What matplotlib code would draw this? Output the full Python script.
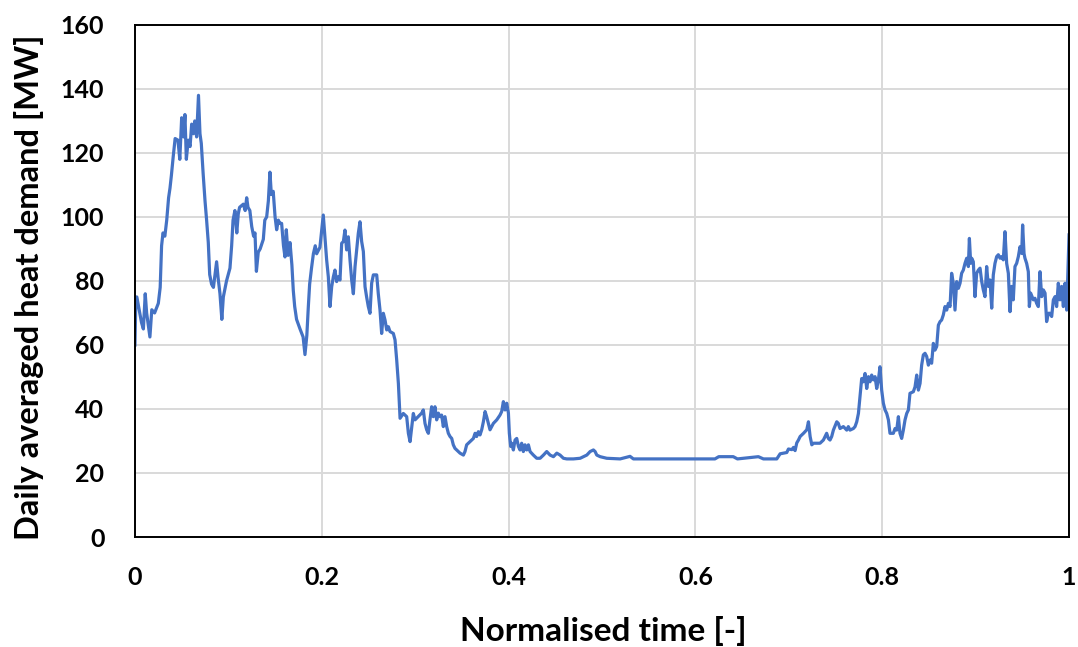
import numpy as np
import matplotlib
matplotlib.use("Agg")
import matplotlib.pyplot as plt

# normalised time [-] and daily averaged heat demand [MW]
norm_time = [
    0, 0.001, 0.002, 0.007, 0.009, 0.011, 0.0125, 0.016, 0.018, 0.021, 0.025, 0.027, 0.0285, 0.030,
    0.032, 0.034, 0.036, 0.0375, 0.039, 0.041, 0.043, 0.046, 0.048, 0.050, 0.052, 0.0535, 0.055,
    0.057, 0.059, 0.0607, 0.0625, 0.064, 0.066, 0.068, 0.0696, 0.071, 0.073, 0.075, 0.0767, 0.0785,
    0.080, 0.082, 0.084, 0.0857, 0.0874, 0.089, 0.091, 0.093, 0.0946, 0.098, 0.1017, 0.1035, 0.105,
    0.107, 0.109, 0.1106, 0.112, 0.116, 0.118, 0.1196, 0.121, 0.123, 0.125, 0.127, 0.1285, 0.130,
    0.132, 0.134, 0.1374, 0.139, 0.141, 0.1428, 0.1445, 0.146, 0.148, 0.150, 0.1517, 0.1535, 0.155,
    0.157, 0.159, 0.1606, 0.162, 0.164, 0.166, 0.168, 0.1695, 0.171, 0.173, 0.1767, 0.180, 0.182,
    0.184, 0.1856, 0.187, 0.189, 0.191, 0.193, 0.1945, 0.198,
    0.2016, 0.2052, 0.207, 0.2088, 0.2106, 0.2124, 0.2141, 0.2159, 0.2177, 0.2195, 0.2213, 0.2231,
    0.2248, 0.2266, 0.2284, 0.2302, 0.232, 0.2338, 0.2356, 0.2373, 0.2391, 0.2409, 0.2427, 0.2445,
    0.2463, 0.248, 0.2498, 0.2516, 0.2534, 0.2552, 0.2588, 0.2605, 0.2623, 0.2641, 0.2659, 0.2677,
    0.2695, 0.2713, 0.273, 0.2766, 0.2784, 0.2802, 0.282, 0.2838, 0.2873, 0.2909, 0.2927, 0.2945,
    0.2963, 0.298, 0.2998,
    0.3069, 0.3087, 0.3105, 0.3123, 0.3141, 0.3158, 0.3176, 0.3194, 0.3212, 0.323, 0.3248, 0.3266,
    0.3283, 0.3301, 0.3319, 0.3337, 0.3355, 0.3373, 0.3391, 0.3408, 0.3426, 0.3444, 0.348, 0.3516,
    0.3533, 0.3551, 0.3587, 0.3623, 0.3641, 0.3658, 0.3676, 0.3694, 0.3712, 0.373, 0.3748, 0.3765,
    0.3783, 0.3801, 0.3819, 0.3837, 0.3873, 0.3908, 0.3926, 0.3944, 0.3962, 0.398, 0.3998, 0.4008,
    0.4022, 0.4033, 0.4051, 0.4069, 0.4087, 0.4105, 0.4122, 0.414, 0.4158, 0.4176, 0.4194, 0.4212,
    0.423, 0.4265, 0.4301, 0.4337, 0.4373, 0.4408, 0.4444, 0.448, 0.4516, 0.4551, 0.4587, 0.4623,
    0.4694, 0.4766, 0.4801, 0.4837, 0.4873, 0.4908, 0.4926, 0.4944, 0.498, 0.5051, 0.5194,
    0.53, 0.5336, 0.6209, 0.625, 0.6405, 0.645, 0.6674, 0.6728, 0.6871, 0.6907, 0.6942, 0.6978,
    0.6996, 0.7032, 0.705, 0.7067, 0.7085, 0.7103, 0.7121, 0.7157, 0.7192, 0.721, 0.7228, 0.7246,
    0.7264, 0.7299,
    0.7334, 0.737, 0.7405, 0.7423, 0.7441, 0.7459, 0.7477, 0.7513, 0.753, 0.7548, 0.7584, 0.762,
    0.7637, 0.7655, 0.7691, 0.7709, 0.7727, 0.7745, 0.7762, 0.778, 0.7798, 0.7816, 0.7834, 0.7852,
    0.7869, 0.7887, 0.7905, 0.7923, 0.7941, 0.7959, 0.7976, 0.7994, 0.8012, 0.803, 0.8048, 0.8066,
    0.8083, 0.8119, 0.8137, 0.8155, 0.8173, 0.819, 0.8208, 0.8226, 0.8244, 0.8262, 0.828, 0.8297,
    0.8333, 0.8351, 0.8369, 0.8387, 0.8405, 0.8422, 0.844, 0.8458, 0.8476, 0.8494, 0.8512, 0.8529,
    0.8547, 0.8565, 0.8583, 0.8601, 0.8619, 0.8636, 0.8654, 0.8672, 0.869, 0.8708, 0.8726, 0.8743,
    0.8761, 0.8779, 0.8797, 0.8815, 0.8833, 0.885, 0.8868, 0.8886, 0.8904, 0.8922, 0.8933, 0.8947,
    0.8958, 0.8975, 0.8993, 0.9011, 0.9029, 0.9047, 0.9065, 0.9082, 0.91, 0.9118, 0.9136, 0.9154,
    0.9172, 0.9189, 0.9207, 0.9225, 0.9243, 0.9261, 0.9279, 0.9296, 0.9314, 0.9332, 0.935, 0.9368,
    0.9386, 0.9403, 0.9421, 0.9439, 0.9457, 0.9475, 0.9493, 0.9503, 0.9518, 0.9528, 0.9546, 0.9564,
    0.9575, 0.9589, 0.9618, 0.9635, 0.9653, 0.9671, 0.9689, 0.9707, 0.9725, 0.9743, 0.976, 0.9778,
    0.9796, 0.9814, 0.9832, 0.985, 0.9867, 0.9885, 0.9903, 0.9921, 0.9939, 0.9957, 0.9975, 1.0,
]
heat_demand_mw = [
    60, 75, 75, 67, 65, 76, 70, 62.5, 71, 70, 73, 78, 91, 95,
    94, 99, 106, 109, 113, 119, 124.5, 124, 118, 131, 125, 132, 118,
    124, 122, 129, 126, 130, 125, 138, 126, 123, 113.5, 105, 99, 92,
    82, 79, 78, 82, 86, 81, 76, 68, 75, 80, 84, 91, 99,
    102, 95, 101, 103, 104, 102, 106, 103, 102, 97, 94, 95, 83,
    89, 90, 93, 99, 100, 105, 114, 107, 108, 100, 96, 99, 98,
    98, 91, 87.5, 96, 88, 92, 85, 77, 72, 68, 65, 62.5, 57,
    63, 72, 79, 84, 88.5, 91, 88.5, 90.5,
    100.6, 86.6, 81.3, 72, 78.2, 81.3, 83.4, 79.8, 81.3, 80.3, 91.8, 92.3,
    95.9, 89.7, 93.8, 86.6, 80.3, 76, 84.5, 89.7, 94.9, 98.5, 92.3, 89.2,
    78.2, 75, 72, 69.9, 79.3, 81.9, 81.9, 76, 71, 63.6, 69.9, 67.8,
    64.7, 65.7, 64.2, 63.6, 61.6, 55.3, 48, 37.1, 38.6, 37.6, 32.4, 29.8,
    34.4, 38.6, 36.6,
    38.7, 39.7, 35.5, 33.5, 32.4, 36.6, 40.7, 37.6, 40.7, 36.6, 38.7, 37.6,
    38.1, 34.5, 37.6, 34.5, 32.4, 31.4, 30.8, 28.8, 27.7, 27.2, 26.2, 25.6,
    26.7, 28.8, 29.8, 30.8, 32.4, 31.4, 32.9, 31.9, 33.5, 36, 39.2, 37.6,
    35.5, 33.5, 34.5, 35.5, 36.6, 38.1, 39.2, 42.3, 39.7, 41.8, 38.7, 32.4,
    28.3, 29.3, 27.2, 30.3, 30.8, 28.3, 27.2, 29.3, 26.7, 28.8, 27.2, 28.8,
    26.7, 25.6, 24.6, 24.6, 25.6, 26.7, 25.6, 25.1, 26.2, 25.6, 24.6, 24.4,
    24.4, 24.6, 25.1, 25.6, 26.7, 27.2, 26.7, 25.6, 25.1, 24.6, 24.4,
    25.2, 24.4, 24.4, 25.1, 25.1, 24.4, 25.1, 24.4, 24.4, 26, 26.2, 26.4,
    27.5, 27.3, 28, 27, 29.4, 30.3, 31.4, 32.4, 33.5, 36, 31.4, 28.8,
    29.3, 29.3,
    29.3, 30.3, 32.4, 30.8, 30.3, 31.4, 33.4, 36.0, 35.5, 33.9, 34.5, 33.4,
    34.5, 33.4, 33.9, 34.5, 36.0, 38.6, 43.8, 49.5, 48.5, 51.1, 46.4, 50.1,
    48.5, 50.6, 49.1, 50.1, 46.4, 49.1, 53.2, 45.9, 41.8, 39.7, 38.6, 36.6,
    32.4, 32.4, 33.9, 33.4, 37.6, 32.4, 30.8, 33.4, 36.6, 38.6, 39.7, 44.9,
    45.4, 46.9, 50.6, 45.9, 48, 53.7, 56.9, 57.4, 56.4, 53.7, 55.3, 54.3,
    60.5, 58.4, 59.5, 66.2, 67.3, 67.8, 69.4, 72, 70.9, 73, 72, 82.4,
    79.3, 70.9, 79.8, 77.7, 79.3, 82.4, 83.4, 85.5, 87.1, 84.5, 93.3, 85.5,
    87.1, 86, 75.1, 82.4, 83.4, 84, 79.8, 77.2, 75.1, 84.5, 78.3, 80.3,
    71.5, 81.9, 85.5, 87.6, 88.2, 87.1, 87.6, 86.6, 95.4, 85.5, 82.4, 70.4,
    78.3, 74.1, 84.5, 85.5, 87.6, 90.7, 88.6, 97.5, 88.6, 87.1, 85.5, 82.9,
    72, 76.2, 74.1, 74.6, 73, 72, 82.9, 75.1, 77.2, 76.2, 67.3, 69.9,
    69.9, 68.9, 74.1, 75.1, 72, 79.3, 74.1, 78.3, 72, 79.3, 70.9, 94.4,
]

x_ticks = [0, 0.2, 0.4, 0.6, 0.8, 1]
x_tick_labels = ["0", "0.2", "0.4", "0.6", "0.8", "1"]
y_ticks = list(range(0, 161, 20))

plt.rcParams['font.family'] = ['Lato', 'DejaVu Sans']

fig = plt.figure(figsize=(10.78, 6.47), dpi=100)
ax = fig.add_axes([0.1252, 0.17, 0.8665, 0.7915])

ax.plot(norm_time, heat_demand_mw, color="#4472C4", lw=2.3, solid_joinstyle="round")

ax.set_xlim(0, 1)
ax.set_ylim(0, 160)
ax.set_xticks(x_ticks)
ax.set_xticklabels(x_tick_labels)
ax.set_yticks(y_ticks)
ax.grid(True, color="#D9D9D9", lw=1.4)
ax.set_axisbelow(True)
for s in ax.spines.values():
    s.set_color("black")
    s.set_linewidth(1.4)
ax.tick_params(length=0, labelsize=18)
ax.tick_params(axis="y", pad=22)
ax.tick_params(axis="x", pad=21)
for lab in ax.get_xticklabels() + ax.get_yticklabels():
    lab.set_fontweight("bold")

ax.set_xlabel("Normalised time [-]", fontsize=24, fontweight="bold")
ax.set_ylabel("Daily averaged heat demand [MW]", fontsize=23.5, fontweight="bold")
ax.xaxis.set_label_coords(0.501, -0.155)
ax.yaxis.set_label_coords(-0.097, 0.487)

fig.savefig("out.png", dpi=100)
